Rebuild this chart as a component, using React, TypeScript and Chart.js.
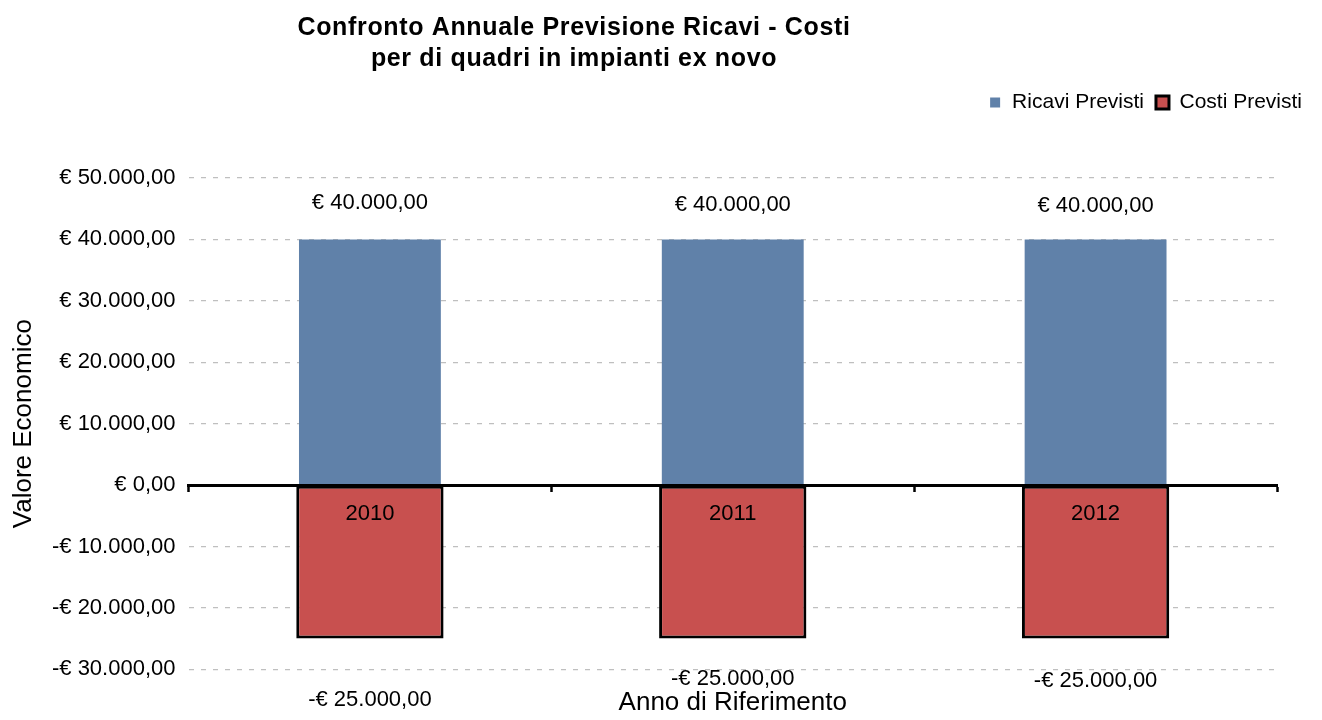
import React, { useEffect, useRef } from 'react';
import { Chart, registerables } from 'chart.js';

Chart.register(...registerables);

// ---- data ----
const years = ['2010', '2011', '2012'];
const ricaviPrevisti = [40000, 40000, 40000];
const costiPrevisti = [-25000, -25000, -25000];
const yMin = -30000;
const yMax = 50000;
const yStep = 10000;
const seriesNames = ['Ricavi Previsti', 'Costi Previsti'];
const titleLines = ['Confronto Annuale Previsione Ricavi - Costi', 'per di quadri in impianti ex novo'];
const yAxisTitle = 'Valore Economico';
const xAxisTitle = 'Anno di Riferimento';

// ---- style ----
const FONT = '"Liberation Sans", Arial, sans-serif';
const BLUE = '#6081A9';
const RED = '#C8504F';
const GRID = '#BFBFBF';
// label distance from bar end (px), per category, as placed in the original
const aboveGap = [36, 34.5, 33];
const belowGap = [61.5, 40, 42.5];

function euro(v: number): string {
  const abs = Math.abs(v);
  const int = Math.floor(abs);
  const cents = Math.round((abs - int) * 100);
  const s = String(int).replace(/\B(?=(\d{3})+(?!\d))/g, '.');
  return (v < 0 ? '-' : '') + '€ ' + s + ',' + String(cents).padStart(2, '0');
}

const titlePlugin = {
  id: 'customTitle',
  afterDraw(chart: any) {
    const ctx = chart.ctx;
    ctx.save();
    ctx.font = `bold 25px ${FONT}`;
    try { (ctx as any).letterSpacing = '0.65px'; } catch (e) {}
    ctx.fillStyle = '#000';
    ctx.textAlign = 'center';
    ctx.textBaseline = 'middle';
    ctx.fillText(titleLines[0], 574, 28);
    ctx.fillText(titleLines[1], 574, 59);
    ctx.restore();
  },
};

const valueLabelPlugin = {
  id: 'valueLabels',
  afterDatasetsDraw(chart: any) {
    const ctx = chart.ctx;
    ctx.save();
    ctx.font = `22px ${FONT}`;
    ctx.fillStyle = '#000';
    ctx.textAlign = 'center';
    ctx.textBaseline = 'middle';
    chart.data.datasets.forEach((ds: any, i: number) => {
      const meta = chart.getDatasetMeta(i);
      meta.data.forEach((bar: any, j: number) => {
        const v = ds.data[j] as number;
        const y = v >= 0 ? bar.y - aboveGap[j] : bar.y + belowGap[j];
        ctx.fillText(euro(v), bar.x, y);
      });
    });
    ctx.restore();
  },
};

export default function App() {
  const ref = useRef<HTMLCanvasElement | null>(null);

  useEffect(() => {
    if (!ref.current) return;
    const chart = new Chart(ref.current, {
      type: 'bar',
      data: {
        labels: years,
        datasets: [
          {
            label: seriesNames[0],
            data: ricaviPrevisti,
            backgroundColor: BLUE,
            borderWidth: 0,
            barPercentage: 0.391,
            categoryPercentage: 1,
            xAxisID: 'x',
            yAxisID: 'y',
          },
          {
            label: seriesNames[1],
            data: costiPrevisti,
            backgroundColor: RED,
            borderColor: '#000',
            borderWidth: 3,
            borderSkipped: false,
            barPercentage: 0.406,
            categoryPercentage: 1,
            xAxisID: 'x',
            yAxisID: 'y',
          },
        ],
      },
      options: {
        responsive: false,
        animation: false,
        devicePixelRatio: 1,
        layout: { padding: { top: 80, right: 8, bottom: 0, left: 0 } },
        plugins: {
          title: { display: false },
          tooltip: { enabled: false },
          legend: {
            display: true,
            position: 'top',
            align: 'end',
            labels: {
              font: { family: FONT, size: 21 },
              color: '#000',
              boxWidth: 13,
              boxHeight: 13,
              padding: 12,
              generateLabels: (c: any) =>
                c.data.datasets.map((ds: any, i: number) => ({
                  text: ds.label,
                  fillStyle: ds.backgroundColor,
                  strokeStyle: i === 0 ? '#ffffff' : '#000000',
                  lineWidth: 3,
                  hidden: false,
                  datasetIndex: i,
                  fontColor: '#000',
                })),
            },
          },
        },
        scales: {
          x: {
            type: 'category',
            axis: 'x',
            stacked: true,
            position: { y: 0 } as any,
            offset: true,
            grid: {
              display: true,
              drawOnChartArea: false,
              drawTicks: true,
              tickLength: 5,
              tickWidth: 2.5,
              tickColor: '#000',
              offset: true,
            },
            border: { display: true, color: '#000', width: 3, z: 1 },
            ticks: {
              font: { family: FONT, size: 22 },
              color: '#000',
              padding: 11,
              z: 1,
              maxRotation: 0,
            },
          },
          xb: {
            type: 'category',
            axis: 'x',
            position: 'bottom',
            grid: { display: false },
            border: { display: false },
            ticks: { display: false },
            title: {
              display: true,
              text: xAxisTitle,
              font: { family: FONT, size: 26 },
              color: '#000',
              padding: { top: 0, bottom: 1.5 },
            },
            afterFit: (s: any) => { s.height = 50.7; },
          },
          xt: {
            type: 'category',
            axis: 'x',
            position: 'top',
            grid: { display: false },
            border: { display: false },
            ticks: { display: false },
            afterFit: (s: any) => { s.height = 55; },
          },
          y: {
            type: 'linear',
            axis: 'y',
            stacked: true,
            position: 'left',
            min: yMin,
            max: yMax,
            grid: {
              display: true,
              drawTicks: false,
              lineWidth: 1.2,
              color: (c: any) => (c.tick && c.tick.value === 0 ? 'rgba(0,0,0,0)' : GRID),
            },
            border: { display: false, dash: [5, 7] },
            ticks: {
              stepSize: yStep,
              font: { family: FONT, size: 22 },
              color: '#000',
              padding: 13,
              callback: (v: any) => euro(Number(v)),
            },
            title: {
              display: true,
              text: yAxisTitle,
              font: { family: FONT, size: 26 },
              color: '#000',
              padding: { top: 8, bottom: 0 },
            },
            afterFit: (s: any) => { s.width = 188.5; },
          },
          yr: {
            type: 'linear',
            axis: 'y',
            position: 'right',
            grid: { display: false },
            border: { display: false },
            ticks: { display: false },
            afterFit: (s: any) => { s.width = 1322 - 8 - 1277; },
          },
        },
      },
      plugins: [titlePlugin, valueLabelPlugin],
    } as any);
    return () => chart.destroy();
  }, []);

  return (
    <div style={{ position: 'fixed', left: 0, top: 0, width: 1322, height: 720, background: '#fff' }}>
      <canvas ref={ref} width={1322} height={720} style={{ width: 1322, height: 720, display: 'block' }} />
    </div>
  );
}
